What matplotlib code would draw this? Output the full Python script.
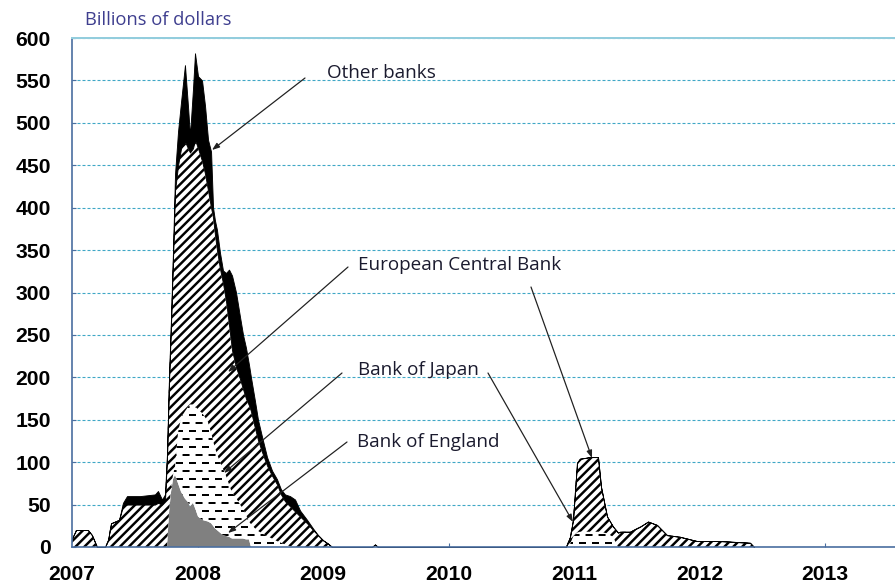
import matplotlib
matplotlib.use('Agg')
import matplotlib.pyplot as plt
import numpy as np
from matplotlib.path import Path

# ---- data (decimal years, billions of dollars) ----
dates = [2007.000, 2007.032, 2007.127, 2007.159, 2007.199, 2007.263, 2007.287, 2007.311,
         2007.375, 2007.406, 2007.438, 2007.542, 2007.661, 2007.685, 2007.717, 2007.741,
         2007.757, 2007.773, 2007.789, 2007.805, 2007.821, 2007.845, 2007.869, 2007.900,
         2007.924, 2007.940, 2007.964, 2007.980, 2008.004, 2008.036, 2008.060, 2008.084,
         2008.108, 2008.124, 2008.139, 2008.155, 2008.179, 2008.203, 2008.227, 2008.251,
         2008.275, 2008.307, 2008.339, 2008.363, 2008.386, 2008.410, 2008.426, 2008.458,
         2008.482, 2008.514, 2008.554, 2008.594, 2008.633, 2008.665, 2008.697, 2008.737,
         2008.777, 2008.817, 2008.873, 2008.920, 2008.960, 2009.000, 2009.040, 2009.072,
         2009.390, 2009.414, 2009.438,
         2010.936, 2010.968, 2010.992, 2011.024, 2011.048, 2011.127, 2011.191, 2011.215,
         2011.263, 2011.311, 2011.351, 2011.367, 2011.446, 2011.526, 2011.590, 2011.661,
         2011.741, 2011.845, 2011.980, 2012.163, 2012.402, 2012.434]

bank_of_england = [0, 0, 0, 0, 0, 0, 0, 0,
                   0, 0, 0, 0, 0, 0, 0, 0,
                   0, 40, 65, 80, 85, 75, 65, 57,
                   53, 48, 52, 46, 36, 32, 31, 30,
                   28, 25, 22, 20, 17, 14, 13, 12,
                   10, 10, 10, 10, 9, 9, 0, 0,
                   0, 0, 0, 0, 0, 0, 0, 0,
                   0, 0, 0, 0, 0, 0, 0, 0,
                   0, 0, 0,
                   0, 0, 0, 0, 0, 0, 0, 0,
                   0, 0, 0, 0, 0, 0, 0, 0,
                   0, 0, 0, 0, 0, 0]

bank_of_japan = [0, 0, 0, 0, 0, 0, 0, 0,
                 0, 0, 0, 0, 0, 0, 0, 0,
                 0, 0, 5, 5, 10, 60, 87, 103,
                 112, 120, 116, 120, 126, 126, 122, 117,
                 107, 100, 95, 90, 83, 78, 71, 62,
                 54, 48, 40, 35, 29, 21, 27, 22,
                 19, 16, 13, 10, 7, 5, 3, 1,
                 0, 0, 0, 0, 0, 0, 0, 0,
                 0, 0, 0,
                 0, 3, 12, 17, 18, 18, 18, 18,
                 16, 12, 0, 0, 0, 0, 0, 0,
                 0, 0, 0, 0, 0, 0]

european_central_bank = [10, 20, 20, 14, 0, 0, 8, 28,
                         32, 48, 50, 50, 50, 52, 50, 55,
                         105, 155, 192, 255, 325, 315, 318, 318,
                         305, 297, 302, 314, 308, 297, 287, 273,
                         265, 263, 251, 240, 228, 219, 206, 188,
                         168, 154, 148, 141, 137, 137, 133, 118,
                         107, 96, 83, 74, 67, 57, 51, 47,
                         42, 36, 28, 20, 14, 8, 4, 0,
                         0, 3, 0,
                         0, 9, 20, 82, 86, 88, 88, 53,
                         20, 12, 17, 18, 18, 24, 30, 26,
                         14, 12, 7, 7, 5, 0]

other_banks = [0, 0, 0, 0, 0, 0, 0, 0,
               0, 4, 10, 10, 12, 14, 6, 7,
               5, 5, 8, 10, 20, 40, 55, 90,
               50, 20, 70, 102, 85, 95, 80, 60,
               66, 12, 17, 24, 19, 15, 33, 65,
               88, 88, 73, 64, 60, 48, 40, 32,
               24, 18, 10, 6, 6, 6, 8, 12,
               14, 7, 4, 2, 0, 0, 0, 0,
               0, 0, 0,
               0, 0, 0, 0, 0, 0, 0, 0,
               0, 0, 0, 0, 0, 0, 0, 0,
               0, 0, 0, 0, 0, 0]

year_ticks = [2007, 2008, 2009, 2010, 2011, 2012, 2013]
year_labels = ['2007', '2008', '2009', '2010', '2011', '2012', '2013']
value_ticks = list(range(0, 601, 50))

series_names = ['Other banks', 'European Central Bank', 'Bank of Japan', 'Bank of England']
unit_label = 'Billions of dollars'

# ---- figure ----
W, H = 895, 588
DPI = 80
plt.rcParams['hatch.linewidth'] = 2.2
plt.rcParams['lines.scale_dashes'] = False

fig = plt.figure(figsize=(W / DPI, H / DPI), dpi=DPI)
fig.patch.set_facecolor('white')
ax = fig.add_axes([72 / W, 41 / H, (W - 72) / W, 509 / H])

x = np.array(dates)
c1 = np.array(bank_of_england, float)
c2 = c1 + np.array(bank_of_japan, float)
c3 = c2 + np.array(european_central_bank, float)
c4 = c3 + np.array(other_banks, float)

ax.set_xlim(2007, 2007 + (W - 72) / 125.5)
ax.set_ylim(0, 600)

# gridlines
ax.set_yticks(value_ticks)
ax.grid(axis='y', color='#3FA7C6', linewidth=1.0, linestyle=(0, (2.7, 1.8)), zorder=1)
ax.set_axisbelow(True)

# layers
ax.fill_between(x, 0, c1, facecolor='#808080', edgecolor='none', linewidth=0, zorder=2)
boj_poly = ax.fill_between(x, c1, c2, facecolor='white', edgecolor='none', linewidth=0, zorder=2)
ax.fill_between(x, c2, c3, facecolor='white', edgecolor='black', hatch='///', linewidth=0, zorder=2)
ax.fill_between(x, c3, c4, facecolor='black', edgecolor='black', linewidth=0.8, zorder=2)

# dashed pattern for Bank of Japan layer
clip = Path.make_compound_path(*boj_poly.get_paths())
ax_h = 509.0
row = 8.0
n_rows = int(ax_h / row) + 1
for i in range(n_rows):
    yf = (i * row + 4) / ax_h
    off = 0 if i % 2 == 0 else 5.8
    ln, = ax.plot([0, 1], [yf, yf], transform=ax.transAxes, color='black', lw=1.8,
                  linestyle=(off, (6.3, 5.4)), dash_capstyle='butt', zorder=2.5)
    ln.set_clip_path(clip, ax.transData)

# spines
ax.spines['right'].set_visible(False)
ax.spines['top'].set_color('#93CDDD')
ax.spines['top'].set_linewidth(1.8)
for s in ('left', 'bottom'):
    ax.spines[s].set_color('#4A6EA0')
    ax.spines[s].set_linewidth(1.5)
for sp in ax.spines.values():
    sp.set_zorder(3)

ax.set_xticks(year_ticks)
ax.set_xticklabels(year_labels)
ax.tick_params(axis='both', direction='in', length=4, width=1, color='#4A6EA0')
ax.tick_params(axis='x', pad=16)
ax.tick_params(axis='y', pad=19)
for lab in ax.get_xticklabels() + ax.get_yticklabels():
    lab.set_fontfamily('Liberation Sans')
    lab.set_fontweight('bold')
    lab.set_fontsize(19)
    lab.set_color('black')

# annotations (figure pixel positions, y measured from top)
def fp(px, py):
    return (px, H - py)

txt_color = '#1a1a2e'
font_kw = dict(family='Open Sans', fontsize=17, color=txt_color, va='center', ha='left')
fig.text(85 / W, 1 - 20 / H, unit_label, family='Open Sans', fontsize=16.5, color='#3F3F8F',
         va='center', ha='left')
fig.text(327 / W, 1 - 73 / H, series_names[0], **font_kw)
fig.text(358 / W, 1 - 265 / H, series_names[1], **font_kw)
fig.text(358 / W, 1 - 370 / H, series_names[2], **font_kw)
fig.text(357 / W, 1 - 442 / H, series_names[3], **font_kw)

arrow_kw = dict(arrowstyle='-|>,head_length=0.55,head_width=0.2', color='#202020', lw=1.1,
                shrinkA=0, shrinkB=0)
arrows = [((305, 78), (212, 150)),
          ((348, 267), (228, 372)),
          ((531, 287), (592, 458)),
          ((342, 373), (224, 473)),
          ((488, 373), (573, 522)),
          ((347, 442), (228, 533))]
for (s, e) in arrows:
    ax.annotate('', xy=fp(*e), xycoords='figure pixels', xytext=fp(*s),
                textcoords='figure pixels', arrowprops=arrow_kw, annotation_clip=False,
                zorder=4)

fig.savefig('out.png', dpi=DPI)
